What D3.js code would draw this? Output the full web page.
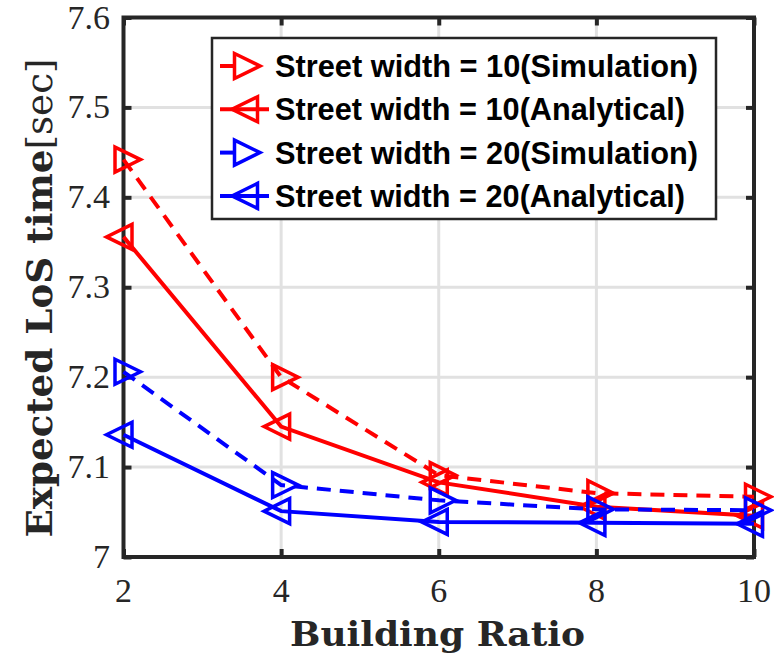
<!DOCTYPE html>
<html><head><meta charset="utf-8">
<script src="https://cdn.jsdelivr.net/npm/d3@7"></script>
<style>body{margin:0;background:#fff;}</style>
</head><body>
<script>
const buildingRatio = [2, 4, 6, 8, 10];
const sw10Sim = [7.442, 7.200, 7.091, 7.071, 7.067];
const sw10Ana = [7.356, 7.145, 7.083, 7.056, 7.046];
const sw20Sim = [7.206, 7.080, 7.063, 7.053, 7.052];
const sw20Ana = [7.136, 7.051, 7.039, 7.038, 7.037];
const xTicks = [2, 4, 6, 8, 10];
const yTicks = [7, 7.1, 7.2, 7.3, 7.4, 7.5, 7.6];
const xTickLabels = ["2", "4", "6", "8", "10"];
const yTickLabels = ["7", "7.1", "7.2", "7.3", "7.4", "7.5", "7.6"];
const seriesNames = ["Street width = 10(Simulation)", "Street width = 10(Analytical)",
                     "Street width = 20(Simulation)", "Street width = 20(Analytical)"];

const series = [
  {name: seriesNames[0], values: sw10Sim, color: "#ff0000", dashed: true, dir: "right"},
  {name: seriesNames[1], values: sw10Ana, color: "#ff0000", dashed: false, dir: "left"},
  {name: seriesNames[2], values: sw20Sim, color: "#0000ff", dashed: true, dir: "right"},
  {name: seriesNames[3], values: sw20Ana, color: "#0000ff", dashed: false, dir: "left"}
];

const W = 774, H = 664;
const L = 123.5, R = 754, T = 17.5, B = 557;
const svg = d3.select("body").append("svg").attr("width", W).attr("height", H);
const x = d3.scaleLinear().domain([2, 10]).range([L, R]);
const y = d3.scaleLinear().domain([7, 7.6]).range([B, T]);
const serif = "'Liberation Serif', 'Times New Roman', serif";

// grid
svg.append("g").selectAll("line").data(xTicks.slice(1, -1)).join("line")
  .attr("x1", d => x(d)).attr("x2", d => x(d)).attr("y1", T).attr("y2", B)
  .attr("stroke", "#e1e1e1").attr("stroke-width", 3);
svg.append("g").selectAll("line").data(yTicks.slice(1, -1)).join("line")
  .attr("y1", d => y(d)).attr("y2", d => y(d)).attr("x1", L).attr("x2", R)
  .attr("stroke", "#e1e1e1").attr("stroke-width", 3);

// axes with inward ticks (no labels; labels drawn below)
const axCol = "#262626";
const tk = 8;
function styleAxis(g) {
  g.select(".domain").remove();
  g.selectAll(".tick line").attr("stroke", axCol).attr("stroke-width", 4);
  g.selectAll(".tick text").remove();
}
svg.append("g").attr("transform", `translate(0,${B})`)
  .call(d3.axisBottom(x).tickValues(xTicks).tickSize(-tk)).call(styleAxis);
svg.append("g").attr("transform", `translate(0,${T})`)
  .call(d3.axisTop(x).tickValues(xTicks).tickSize(-tk)).call(styleAxis);
svg.append("g").attr("transform", `translate(${L},0)`)
  .call(d3.axisLeft(y).tickValues(yTicks).tickSize(-tk)).call(styleAxis);
svg.append("g").attr("transform", `translate(${R},0)`)
  .call(d3.axisRight(y).tickValues(yTicks).tickSize(-tk)).call(styleAxis);

svg.append("g").selectAll("text").data(xTicks).join("text")
  .attr("x", d => x(d)).attr("y", 602).attr("text-anchor", "middle")
  .style("font-family", serif).style("font-size", "34px").attr("fill", axCol)
  .text((d, i) => xTickLabels[i]);
svg.append("g").selectAll("text").data(yTicks).join("text")
  .attr("x", 110).attr("y", d => y(d) + 11).attr("text-anchor", "end")
  .style("font-family", serif).style("font-size", "34px").attr("fill", axCol)
  .text((d, i) => yTickLabels[i]);

svg.append("rect").attr("x", L).attr("y", T).attr("width", R - L).attr("height", B - T)
  .attr("fill", "none").attr("stroke", axCol).attr("stroke-width", 4);

// marker path
function tri(dir) {
  const h = 12.5, a = 8.5;
  if (dir === "right") return `M${-a},${-h}L${2*a},0L${-a},${h}Z`;
  return `M${a},${-h}L${-2*a},0L${a},${h}Z`;
}

const line = d3.line().x((d, i) => x(buildingRatio[i])).y(d => y(d));
series.forEach(s => {
  const g = svg.append("g");
  g.append("path").attr("d", line(s.values)).attr("fill", "none")
    .attr("stroke", s.color).attr("stroke-width", 4)
    .attr("stroke-dasharray", s.dashed ? "14,9" : null);
  g.selectAll("path.m").data(s.values).join("path").attr("class", "m")
    .attr("d", tri(s.dir))
    .attr("transform", (d, i) => `translate(${x(buildingRatio[i])},${y(d)})`)
    .attr("fill", "none").attr("stroke", s.color).attr("stroke-width", 3.5);
});

// legend
const lg = svg.append("g");
lg.append("rect").attr("x", 212).attr("y", 38).attr("width", 504).attr("height", 181)
  .attr("fill", "#fff").attr("stroke", axCol).attr("stroke-width", 2.5);
series.forEach((s, i) => {
  const cy = 66 + i * 43.3;
  if (s.dashed) {
    lg.append("line").attr("x1", 220).attr("x2", 234).attr("y1", cy).attr("y2", cy)
      .attr("stroke", s.color).attr("stroke-width", 4);
  } else {
    lg.append("line").attr("x1", 220).attr("x2", 269).attr("y1", cy).attr("y2", cy)
      .attr("stroke", s.color).attr("stroke-width", 4);
  }
  lg.append("path").attr("d", tri(s.dir)).attr("transform", `translate(${s.dir === "right" ? 243 : 249},${cy})`)
    .attr("fill", "none").attr("stroke", s.color).attr("stroke-width", 3.5);
  lg.append("text").attr("x", 275).attr("y", cy + 11)
    .attr("textLength", s.name.includes("Simulation") ? 423 : 410).attr("lengthAdjust", "spacingAndGlyphs")
    .style("font-family", "'Liberation Sans', Arial, sans-serif").style("font-weight", "bold")
    .style("font-size", "30.5px").attr("fill", "#000").text(s.name);
});

// axis titles
svg.append("text").attr("x", 437.5).attr("y", 646).attr("text-anchor", "middle")
  .attr("textLength", 295).attr("lengthAdjust", "spacingAndGlyphs")
  .style("font-family", "'DejaVu Serif', serif").style("font-weight", "bold").style("font-size", "34px")
  .attr("fill", axCol).text("Building Ratio");
const yl = svg.append("text").attr("transform", "translate(52,298) rotate(-90)").attr("text-anchor", "middle")
  .attr("textLength", 479).attr("lengthAdjust", "spacingAndGlyphs")
  .style("font-family", "'DejaVu Serif', serif").style("font-size", "35px").attr("fill", axCol);
yl.append("tspan").style("font-weight", "bold").text("Expected LoS time");
yl.append("tspan").text("[sec]");
</script>
</body></html>
